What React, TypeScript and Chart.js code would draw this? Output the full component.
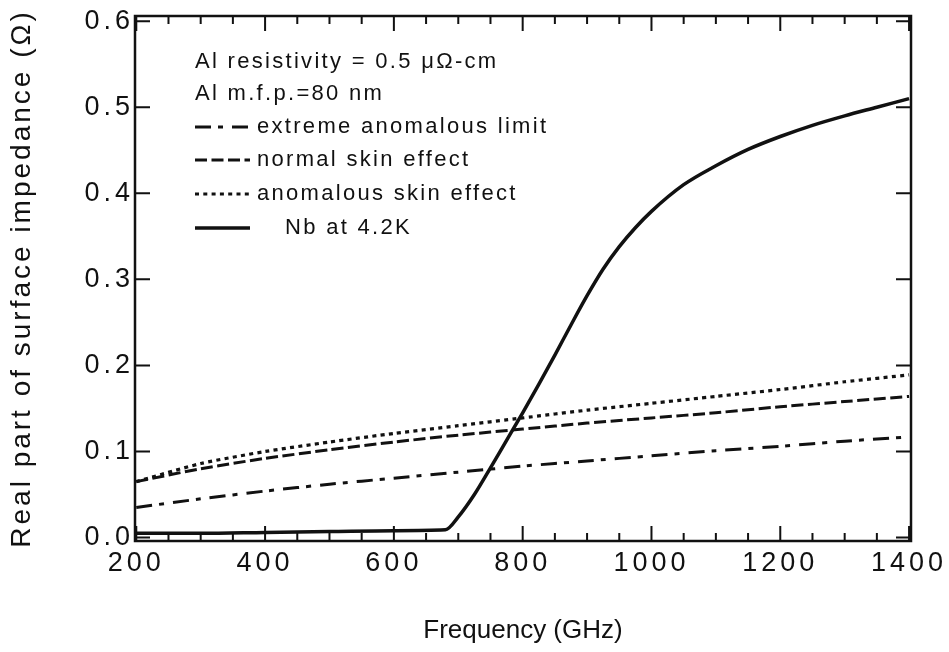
import React, { useEffect, useRef } from 'react';
import { Chart, registerables } from 'chart.js';

Chart.register(...registerables);

// ---- data ----
const freqGHz = [200, 300, 400, 500, 600, 700, 800, 900, 1000, 1100, 1200, 1300, 1400];
const extremeAnomalous = [0.035, 0.045, 0.054, 0.062, 0.069, 0.076, 0.083, 0.089, 0.095, 0.101, 0.106, 0.112, 0.117];
const normalSkin = [0.065, 0.080, 0.092, 0.102, 0.111, 0.119, 0.126, 0.133, 0.139, 0.145, 0.152, 0.158, 0.164];
const anomalousSkin = [0.065, 0.086, 0.100, 0.111, 0.121, 0.130, 0.139, 0.148, 0.156, 0.164, 0.172, 0.181, 0.189];
const nbFreqGHz = [200, 300, 400, 500, 600, 680, 700, 725, 750, 775, 800, 825, 850, 875, 900, 925, 950, 975, 1000, 1050, 1100, 1150, 1200, 1250, 1300, 1350, 1400];
const nbValues = [0.005, 0.005, 0.006, 0.007, 0.008, 0.009, 0.024, 0.050, 0.081, 0.113, 0.145, 0.178, 0.212, 0.247, 0.281, 0.312, 0.338, 0.360, 0.379, 0.410, 0.432, 0.451, 0.466, 0.479, 0.490, 0.500, 0.510];

const xTickValues = [200, 400, 600, 800, 1000, 1200, 1400];
const xMinorStep = 50;
const yTickValues = [0, 0.1, 0.2, 0.3, 0.4, 0.5, 0.6];

const headerLines = ['Al resistivity = 0.5 μΩ-cm', 'Al m.f.p.=80 nm'];
const seriesNames = ['extreme anomalous limit', 'normal skin effect', 'anomalous skin effect', 'Nb at 4.2K'];
const xTitle = 'Frequency (GHz)';
const yTitle = 'Real part of surface impedance (Ω)';

// ---- styles ----
const FONT = '"Liberation Sans", Arial, Helvetica, sans-serif';
const INK = '#111111';
const dashes: number[][] = [[16, 7, 5, 9], [12, 4.5], [4, 4.3], []];
const widths = [3, 3, 3.2, 3.5];

function pts(xs: number[], ys: number[]) {
  return xs.map((x, i) => ({ x, y: ys[i] }));
}

const whiteBg = {
  id: 'whiteBg',
  beforeDraw(chart: any) {
    const { ctx, width, height } = chart;
    ctx.save();
    ctx.fillStyle = '#ffffff';
    ctx.fillRect(0, 0, width, height);
    ctx.restore();
  },
};

const spacing = {
  id: 'spacing',
  beforeDraw(chart: any) {
    const patch = (scale: any, labelSp: string, titleSp: string) => {
      if (!scale || scale._spPatched) return;
      scale._spPatched = true;
      const dl = scale.drawLabels;
      const dt = scale.drawTitle;
      scale.drawLabels = function (area: any) {
        const c = this.ctx;
        const p = c.letterSpacing;
        c.letterSpacing = labelSp;
        dl.call(this, area);
        c.letterSpacing = p || '0px';
      };
      scale.drawTitle = function (area: any) {
        const c = this.ctx;
        const p = c.letterSpacing;
        c.letterSpacing = titleSp;
        dt.call(this, area);
        c.letterSpacing = p || '0px';
      };
    };
    patch(chart.scales.x, '4px', '0px');
    patch(chart.scales.y, '4px', '3px');
  },
};

const frame = {
  id: 'frame',
  afterDraw(chart: any) {
    const { ctx, chartArea: a } = chart;
    const x = chart.scales.x;
    const y = chart.scales.y;
    ctx.save();
    ctx.setLineDash([]);
    ctx.strokeStyle = INK;
    ctx.lineWidth = 2.5;
    ctx.strokeRect(a.left, a.top, a.right - a.left, a.bottom - a.top);
    ctx.lineWidth = 2;
    ctx.beginPath();
    const first = xTickValues[0];
    const last = xTickValues[xTickValues.length - 1];
    for (let v = first; v <= last; v += xMinorStep) {
      const px = x.getPixelForValue(v);
      const len = xTickValues.includes(v) ? 15 : 8;
      ctx.moveTo(px, a.bottom);
      ctx.lineTo(px, a.bottom - len);
      ctx.moveTo(px, a.top);
      ctx.lineTo(px, a.top + len);
    }
    yTickValues.forEach((v) => {
      const py = y.getPixelForValue(v);
      ctx.moveTo(a.left, py);
      ctx.lineTo(a.left + 15, py);
      ctx.moveTo(a.right, py);
      ctx.lineTo(a.right - 15, py);
    });
    ctx.stroke();
    ctx.restore();
  },
};

const legendBox = {
  id: 'legendBox',
  afterDraw(chart: any) {
    const { ctx, chartArea: a } = chart;
    const x0 = a.left + 60;
    const rows = [46, 78, 111, 144, 178, 212];
    ctx.save();
    ctx.font = `22px ${FONT}`;
    ctx.fillStyle = INK;
    ctx.strokeStyle = INK;
    ctx.textBaseline = 'middle';
    ctx.textAlign = 'left';
    ctx.letterSpacing = '2.3px';
    headerLines.forEach((t, i) => ctx.fillText(t, x0, a.top + rows[i]));
    seriesNames.forEach((t, i) => {
      const yy = a.top + rows[i + 2];
      ctx.setLineDash(dashes[i]);
      ctx.lineWidth = widths[i];
      ctx.beginPath();
      ctx.moveTo(x0, yy);
      ctx.lineTo(x0 + 55, yy);
      ctx.stroke();
      ctx.fillText(t, i === 3 ? x0 + 90 : x0 + 62, yy);
    });
    ctx.restore();
  },
};

export default function App() {
  const ref = useRef<HTMLCanvasElement | null>(null);

  useEffect(() => {
    document.body.style.margin = '0';
    const canvas = ref.current;
    if (!canvas) return;
    const series = [extremeAnomalous, normalSkin, anomalousSkin];
    const datasets: any[] = series.map((vals, i) => ({
      label: seriesNames[i],
      data: pts(freqGHz, vals),
      borderColor: INK,
      borderWidth: widths[i],
      borderDash: dashes[i],
      pointRadius: 0,
      tension: 0.2,
      fill: false,
    }));
    datasets.push({
      label: seriesNames[3],
      data: pts(nbFreqGHz, nbValues),
      borderColor: INK,
      borderWidth: widths[3],
      pointRadius: 0,
      cubicInterpolationMode: 'monotone',
      fill: false,
    });

    const chart = new Chart(canvas, {
      type: 'line',
      data: { datasets },
      options: {
        animation: false,
        responsive: false,
        devicePixelRatio: 1,
        layout: { padding: { top: 16, right: 38, left: 0, bottom: 0 } },
        plugins: { legend: { display: false }, tooltip: { enabled: false } },
        scales: {
          x: {
            type: 'linear',
            min: 198,
            max: 1403,
            grid: { display: false, drawTicks: false },
            border: { display: false },
            afterBuildTicks: (s: any) => {
              s.ticks = xTickValues.map((v) => ({ value: v }));
            },
            afterFit: (s: any) => {
              s.height = 111;
            },
            ticks: {
              font: { size: 27, family: FONT, lineHeight: 1 },
              color: INK,
              padding: 9,
              maxRotation: 0,
              autoSkip: false,
              callback: (v: any) => String(v),
            },
            title: {
              display: true,
              text: xTitle,
              font: { size: 26, family: FONT },
              color: INK,
              padding: { top: 0, bottom: 6 },
            },
          },
          y: {
            type: 'linear',
            min: -0.004,
            max: 0.606,
            grid: { display: false, drawTicks: false },
            border: { display: false },
            afterBuildTicks: (s: any) => {
              s.ticks = yTickValues.map((v) => ({ value: v }));
            },
            afterFit: (s: any) => {
              s.width = 135;
            },
            ticks: {
              font: { size: 27, family: FONT, lineHeight: 1 },
              color: INK,
              padding: 1,
              autoSkip: false,
              callback: (v: any) => Number(v).toFixed(1),
            },
            title: {
              display: true,
              text: yTitle,
              font: { size: 28, family: FONT },
              color: INK,
              padding: { top: 5, bottom: 0 },
            },
          },
        },
      } as any,
      plugins: [whiteBg, spacing, frame, legendBox],
    });
    return () => chart.destroy();
  }, []);

  return (
    <div style={{ width: 949, height: 652, position: 'relative' }}>
      <canvas ref={ref} width={949} height={652} style={{ display: 'block' }} />
    </div>
  );
}
